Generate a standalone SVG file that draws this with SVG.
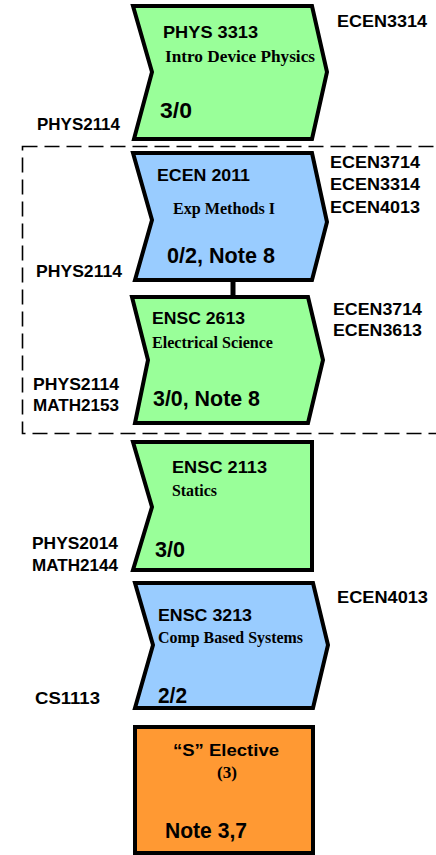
<svg xmlns="http://www.w3.org/2000/svg" width="436" height="855" viewBox="0 0 436 855">
<style>
.box{stroke:#000;stroke-width:4;stroke-linejoin:miter}
.g{fill:#99FF99}
.b{fill:#99CCFF}
.o{fill:#FF9933}
.t{font-family:"Liberation Sans",Arial,sans-serif;font-weight:bold;font-size:17px;fill:#000}
.s{font-family:"Liberation Serif","Times New Roman",serif;font-weight:bold;font-size:17px;fill:#000}
.c{font-family:"Liberation Sans",Arial,sans-serif;font-weight:bold;font-size:22px;fill:#000}
.l{font-family:"Liberation Sans",Arial,sans-serif;font-weight:bold;font-size:16.5px;fill:#000}
</style>
<rect x="22.5" y="146.5" width="430" height="287" fill="none" stroke="#000" stroke-width="1.6" stroke-dasharray="15,7"/>
<g id="connectors">
<line x1="233" y1="281" x2="233" y2="297" stroke="#000" stroke-width="5"/>
</g>
<g id="phys3313">
<polygon class="box g" points="133,6 312,6 327,72 312,139 134,139 152,72"/>
<text class="t" x="163" y="38" textLength="95" lengthAdjust="spacingAndGlyphs">PHYS 3313</text>
<text class="s" x="165" y="62" textLength="150" lengthAdjust="spacingAndGlyphs">Intro Device Physics</text>
<text class="c" x="160" y="118" textLength="32" lengthAdjust="spacingAndGlyphs">3/0</text>
</g>
<g id="ecen2011">
<polygon class="box b" points="133,153 312,153 327,222 312,280 135,280 152,220"/>
<text class="t" x="157" y="181" textLength="93" lengthAdjust="spacingAndGlyphs">ECEN 2011</text>
<text class="s" x="173" y="214" textLength="102" lengthAdjust="spacingAndGlyphs">Exp Methods I</text>
<text class="c" x="167" y="263" textLength="108" lengthAdjust="spacingAndGlyphs">0/2, Note 8</text>
</g>
<g id="ensc2613">
<polygon class="box g" points="132,297 308,297 323,360 308,423 135,423 148,360"/>
<text class="t" x="152" y="324" textLength="93" lengthAdjust="spacingAndGlyphs">ENSC 2613</text>
<text class="s" x="152" y="348" textLength="121" lengthAdjust="spacingAndGlyphs">Electrical Science</text>
<text class="c" x="153" y="406" textLength="107" lengthAdjust="spacingAndGlyphs">3/0, Note 8</text>
</g>
<g id="ensc2113">
<polygon class="box g" points="133,442 312,442 312,570 133,570 152,507"/>
<text class="t" x="172" y="473" textLength="95" lengthAdjust="spacingAndGlyphs">ENSC 2113</text>
<text class="s" x="172" y="496" textLength="45" lengthAdjust="spacingAndGlyphs">Statics</text>
<text class="c" x="155" y="557" textLength="30" lengthAdjust="spacingAndGlyphs">3/0</text>
</g>
<g id="ensc3213">
<polygon class="box b" points="135,583 313,583 328,645 313,708 135,708 153,645"/>
<text class="t" x="158" y="621" textLength="94" lengthAdjust="spacingAndGlyphs">ENSC 3213</text>
<text class="s" x="158" y="643" textLength="145" lengthAdjust="spacingAndGlyphs">Comp Based Systems</text>
<text class="c" x="158" y="703" textLength="29" lengthAdjust="spacingAndGlyphs">2/2</text>
</g>
<g id="s-elective">
<rect class="box o" x="135" y="727" width="178" height="126"/>
<text class="t" x="173" y="756" textLength="106" lengthAdjust="spacingAndGlyphs">“S” Elective</text>
<text class="s" x="217" y="778" textLength="20" lengthAdjust="spacingAndGlyphs">(3)</text>
<text class="c" x="165" y="838" textLength="82" lengthAdjust="spacingAndGlyphs">Note 3,7</text>
</g>
<g id="labels">
<text class="l" x="337" y="27" textLength="90" lengthAdjust="spacingAndGlyphs">ECEN3314</text>
<text class="l" x="37" y="130" textLength="83" lengthAdjust="spacingAndGlyphs">PHYS2114</text>
<text class="l" x="330" y="168" textLength="90" lengthAdjust="spacingAndGlyphs">ECEN3714</text>
<text class="l" x="330" y="190" textLength="90" lengthAdjust="spacingAndGlyphs">ECEN3314</text>
<text class="l" x="330" y="213" textLength="90" lengthAdjust="spacingAndGlyphs">ECEN4013</text>
<text class="l" x="36" y="277" textLength="86" lengthAdjust="spacingAndGlyphs">PHYS2114</text>
<text class="l" x="333" y="315" textLength="89" lengthAdjust="spacingAndGlyphs">ECEN3714</text>
<text class="l" x="333" y="336" textLength="89" lengthAdjust="spacingAndGlyphs">ECEN3613</text>
<text class="l" x="33" y="390" textLength="86" lengthAdjust="spacingAndGlyphs">PHYS2114</text>
<text class="l" x="33" y="411" textLength="86" lengthAdjust="spacingAndGlyphs">MATH2153</text>
<text class="l" x="32" y="549" textLength="86" lengthAdjust="spacingAndGlyphs">PHYS2014</text>
<text class="l" x="32" y="571" textLength="86" lengthAdjust="spacingAndGlyphs">MATH2144</text>
<text class="l" x="35" y="704" textLength="65" lengthAdjust="spacingAndGlyphs">CS1113</text>
<text class="l" x="337" y="603" textLength="91" lengthAdjust="spacingAndGlyphs">ECEN4013</text>
</g>
</svg>
